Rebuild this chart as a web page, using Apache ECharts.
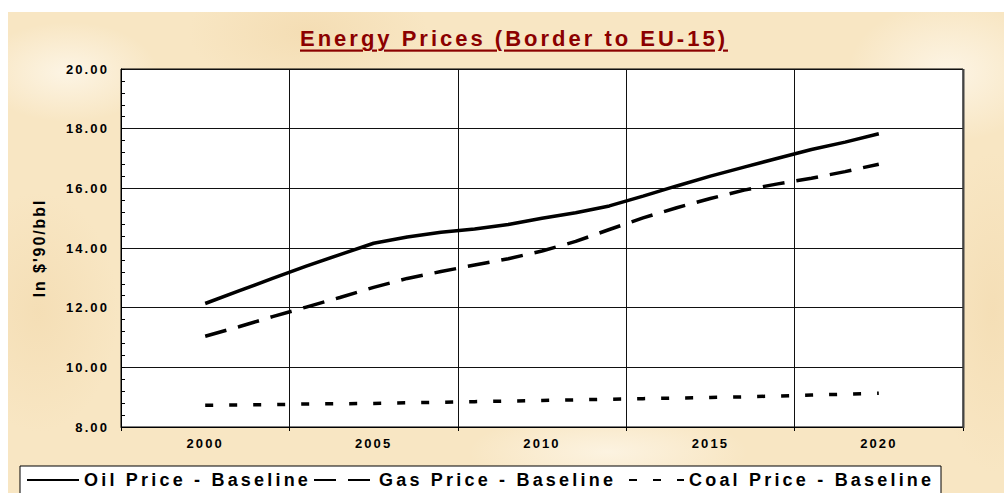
<!DOCTYPE html>
<html>
<head>
<meta charset="utf-8">
<script src="https://cdn.jsdelivr.net/npm/echarts@6/dist/echarts.min.js"></script>
<style>
  html, body { margin: 0; padding: 0; background: #fff; }
  #bg {
    position: absolute; left: 8px; top: 12px; width: 996px; height: 481px;
    background-color: #f8e6c3;
    background-image:
      radial-gradient(ellipse 90px 50px at 60px 60px, rgba(253,246,232,0.9), transparent),
      radial-gradient(ellipse 120px 60px at 300px 20px, rgba(243,219,176,0.8), transparent),
      radial-gradient(ellipse 100px 70px at 940px 60px, rgba(253,246,232,0.9), transparent),
      radial-gradient(ellipse 80px 120px at 30px 300px, rgba(243,219,176,0.7), transparent),
      radial-gradient(ellipse 140px 40px at 600px 440px, rgba(253,246,232,0.8), transparent),
      radial-gradient(ellipse 60px 160px at 985px 300px, rgba(243,219,176,0.7), transparent);
  }
  #main { position: absolute; left: 0; top: 0; width: 1004px; height: 493px; }
  /* Excel-style spaced lettering, keyed on font size */
  #main text[style*="22px"] {
    letter-spacing: 3px;
    text-decoration: underline;
    text-decoration-thickness: 3px;
    text-underline-offset: 3px;
  }
  #main text[style*="18px"] { letter-spacing: 3.2px; }
  #main text[style*="16px"] { letter-spacing: 1.9px; }
  #main text[style*="13px"] { letter-spacing: 2.1px; }
</style>
</head>
<body>
<div id="bg"></div>
<div id="main"></div>
<script>
var years = ['1998', '1999', '2000', '2001', '2002', '2003', '2004', '2005', '2006', '2007', '2008', '2009',
  '2010', '2011', '2012', '2013', '2014', '2015', '2016', '2017', '2018', '2019', '2020', '2021', '2022'];

var oilPrice = [null, null, 12.14, 12.56, 12.98, 13.39, 13.78, 14.16, 14.37, 14.53, 14.64, 14.79,
  15.00, 15.18, 15.41, 15.74, 16.08, 16.41, 16.71, 17.01, 17.30, 17.55, 17.83, null, null];
var gasPrice = [null, null, 11.04, 11.36, 11.70, 12.02, 12.34, 12.68, 12.98, 13.21, 13.43, 13.64,
  13.90, 14.22, 14.62, 15.01, 15.35, 15.66, 15.94, 16.15, 16.34, 16.56, 16.81, null, null];
var coalPrice = [null, null, 8.73, 8.74, 8.75, 8.77, 8.78, 8.79, 8.81, 8.83, 8.85, 8.87,
  8.89, 8.91, 8.93, 8.95, 8.97, 8.99, 9.01, 9.04, 9.07, 9.10, 9.13, null, null];

var font = 'Liberation Sans, Arial, sans-serif';

var chart = echarts.init(document.getElementById('main'), null, { renderer: 'svg', width: 1004, height: 493 });

function legendFor(name, left, w) {
  return {
    data: [name],
    left: left,
    top: 471,
    padding: 0,
    itemWidth: w,
    itemHeight: 14,
    z: 10,
    itemStyle: { color: 'transparent', borderWidth: 0, opacity: 0 },
    textStyle: { fontFamily: font, fontSize: 18, fontWeight: 'bold', color: '#000' }
  };
}

var option = {
  backgroundColor: 'transparent',
  animation: false,
  title: {
    text: 'Energy Prices (Border to EU-15)',
    left: 300,
    top: 27,
    padding: 0,
    textStyle: { fontFamily: font, fontSize: 22, fontWeight: 'bold', color: '#8b0000' }
  },
  graphic: [
    {
      type: 'rect',
      z: 1,
      shape: { x: 20, y: 466, width: 921, height: 40 },
      style: { fill: '#fff', stroke: '#000', lineWidth: 1 }
    },
    {
      // heavier right edge of the plot frame
      type: 'line',
      z: 20,
      shape: { x1: 963.5, y1: 69, x2: 963.5, y2: 428 },
      style: { stroke: '#444', lineWidth: 2 }
    }
  ],
  legend: [
    legendFor('Oil Price - Baseline', 26, 52),
    legendFor('Gas Price - Baseline', 313, 60),
    legendFor('Coal Price - Baseline', 628, 55)
  ],
  grid: {
    left: 121, right: 41, top: 69, bottom: 66,
    show: true,
    backgroundColor: '#fff',
    borderColor: '#000',
    borderWidth: 1
  },
  xAxis: {
    type: 'category',
    data: years,
    boundaryGap: true,
    axisLine: { lineStyle: { color: '#000', width: 1 } },
    axisTick: { show: true, interval: 4, length: 4, lineStyle: { color: '#000' } },
    axisLabel: {
      interval: function (idx) { return (idx - 2) % 5 === 0; },
      margin: 10,
      fontFamily: font, fontSize: 13, fontWeight: 'bold', color: '#000'
    },
    splitLine: { show: true, interval: 4, lineStyle: { color: '#111', width: 1 } }
  },
  yAxis: {
    type: 'value',
    min: 8,
    max: 20,
    interval: 2,
    name: "In $'90/bbl",
    nameLocation: 'middle',
    nameRotate: 90,
    nameGap: 74,
    nameTextStyle: { fontFamily: font, fontSize: 16, fontWeight: 'bold', color: '#000' },
    axisLine: { show: true, lineStyle: { color: '#000', width: 1 } },
    axisTick: { show: true, inside: true, length: 4, lineStyle: { color: '#000' } },
    minorTick: { show: true, splitNumber: 5, length: 4, lineStyle: { color: '#000' } },
    axisLabel: {
      margin: 12,
      formatter: function (v) { return v.toFixed(2); },
      fontFamily: font, fontSize: 13, fontWeight: 'bold', color: '#000'
    },
    splitLine: { show: true, lineStyle: { color: '#111', width: 1 } }
  },
  series: [
    {
      name: 'Oil Price - Baseline',
      type: 'line',
      data: oilPrice,
      symbol: 'none',
      itemStyle: { color: '#000' },
      lineStyle: { color: '#000', width: 3.5, type: 'solid' }
    },
    {
      name: 'Gas Price - Baseline',
      type: 'line',
      data: gasPrice,
      symbol: 'none',
      itemStyle: { color: '#000' },
      lineStyle: { color: '#000', width: 3.5, type: [22, 12] }
    },
    {
      name: 'Coal Price - Baseline',
      type: 'line',
      data: coalPrice,
      symbol: 'none',
      itemStyle: { color: '#000' },
      lineStyle: { color: '#000', width: 3.5, type: [8, 16] }
    }
  ]
};

chart.setOption(option);
</script>
</body>
</html>
